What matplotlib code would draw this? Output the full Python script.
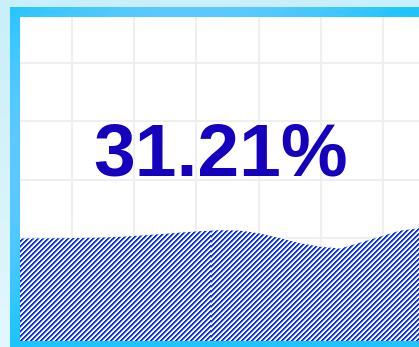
import numpy as np
import matplotlib
matplotlib.use('Agg')
import matplotlib.pyplot as plt

# liquid fill value and the wave surface (pixel coords)
value = 0.3121
wave_x = [20, 40, 60, 80, 100, 120, 140, 160, 180, 200, 220, 240, 260, 280,
          300, 320, 340, 360, 380, 400, 419]
wave_y = [238.5, 238.4, 238.2, 238.0, 237.6, 236.8, 235.6, 234.2, 232.6, 231.2,
          230.2, 230.6, 233.5, 238.2, 243.2, 246.7, 248.6, 242.7, 236.7, 230.7, 228.3]

W, H = 419, 347

fig = plt.figure(figsize=(W / 100, H / 100), dpi=100)
ax = fig.add_axes([0, 0, 1, 1])
ax.set_xlim(0, W)
ax.set_ylim(H, 0)
ax.axis('off')

# outer light blue background
yy, xx = np.mgrid[0:H, 0:W]
t = yy / H
c0 = np.array([201, 238, 252]) / 255
c1 = np.array([228, 247, 254]) / 255
bg = c0 + (c1 - c0) * t[..., None]
ax.imshow(bg, extent=(0, W, H, 0), zorder=0, aspect='auto')

# cyan border with a soft gradient
d = (xx / W + yy / H) / 2
light = np.clip(np.sin(2 * np.pi * d), 0, 1)[..., None]
dark = np.array([30, 197, 255]) / 255
lite = np.array([92, 202, 255]) / 255
border = dark + (lite - dark) * light
ax.imshow(border[7:, 10:], extent=(10, W, H, 7), zorder=1, aspect='auto')
ax.add_patch(plt.Rectangle((20, 17), W, 341 - 17, facecolor='white',
                           edgecolor='none', zorder=2))

# grid
ax.vlines([72, 134, 196, 259, 321, 383], 17, 341, color='#efefef', lw=1.5, zorder=3)
ax.hlines([63, 121, 180, 238, 297], 20, W, color='#efefef', lw=1.5, zorder=3)

# liquid: white body with a diagonal stripe pattern
liquid = ax.fill_between(wave_x, wave_y, 341, facecolor='white', lw=0, zorder=4)
blue = np.array([10, 47, 245]) / 255
phase = (xx + yy) % 5
cover = np.where(phase < 2, 1.0, np.where(phase == 2, 0.5, 0.0))[..., None]
pattern = 1 + (blue - 1) * cover
img = ax.imshow(pattern, extent=(0, W, H, 0), zorder=5, aspect='auto',
                interpolation='none')
img.set_clip_path(liquid.get_paths()[0], ax.transData)

ax.text(221, 175, '{:.2f}%'.format(value * 100), ha='center', va='baseline',
        fontsize=54, fontweight='bold', family='Liberation Sans',
        color='#1500be', zorder=6)

fig.savefig('out.png', dpi=100)
